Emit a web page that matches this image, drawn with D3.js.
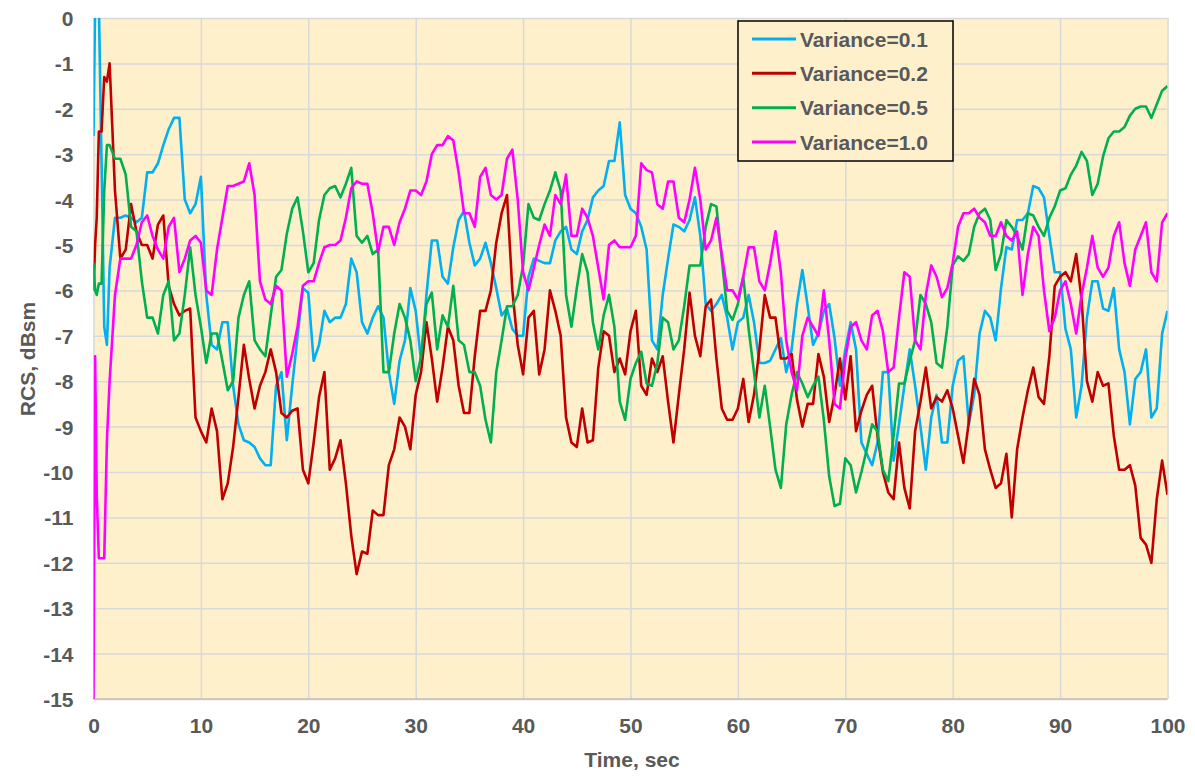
<!DOCTYPE html>
<html>
<head>
<meta charset="utf-8">
<script src="https://cdn.jsdelivr.net/npm/d3@7"></script>
<style>
  body { margin: 0; background: #fff; }
  svg text { font-family: "Liberation Sans", Arial, sans-serif; font-weight: bold; fill: #595959; }
</style>
</head>
<body>
<svg id="chart" width="1195" height="776"></svg>
<script>
// time axis: dense start, then every 0.5 s
const tHead = [0, 0.15, 0.3, 0.5, 0.75, 1, 1.25]
const times = tHead.concat(d3.range(1.5, 100.001, 0.5))

const seriesNames = ["Variance=0.1", "Variance=0.2", "Variance=0.5", "Variance=1.0"]
const seriesColors = ["#00b0f0", "#c00000", "#00b050", "#ff00ff"]

// RCS values, dBsm
const var01 = [
  -2.6, 0.3, 0.3, 0.3, -3.2, -6.8, -7.2,
  -5.5, -4.4, -4.4, -4.35, -4.4, -4.5, -4.4, -3.4, -3.4, -3.2, -2.8, -2.45, -2.2, -2.2, -4.0, -4.3, -4.1, -3.5,
  -6.1, -7.2, -7.3, -6.7, -6.7, -8.1, -8.95, -9.3, -9.35, -9.45, -9.7, -9.85, -9.85, -8.1, -7.8, -9.3, -8.1, -7.0, -5.95, -6.05,
  -7.55, -7.2, -6.45, -6.7, -6.6, -6.6, -6.3, -5.3, -5.6, -6.7, -6.95, -6.6, -6.35, -6.6, -7.8, -8.5, -7.55, -7.1, -5.95, -6.45,
  -7.55, -6.1, -4.9, -4.9, -5.7, -5.85, -5.05, -4.45, -4.25, -4.95, -5.45, -5.3, -4.95, -5.4, -5.95, -6.55, -6.4, -6.85, -7.0, -7.0,
  -5.7, -5.3, -5.35, -5.4, -5.4, -4.9, -4.7, -4.6, -5.1, -5.2, -4.7, -4.45, -3.95, -3.8, -3.7, -3.15, -3.15, -2.3, -3.9, -4.2,
  -4.3, -4.6, -5.1, -7.1, -7.3, -6.1, -5.3, -4.55, -4.6, -4.7, -4.45, -3.95, -4.8, -6.3, -6.45, -6.3, -6.1, -6.6, -7.3, -6.7,
  -6.6, -6.1, -6.7, -7.6, -7.6, -7.55, -7.3, -7.05, -7.8, -7.3, -6.3, -5.55, -6.35, -7.2, -6.95, -6.45, -6.3, -7.05, -8.1, -7.3,
  -6.7, -7.3, -9.35, -9.6, -9.85, -9.35, -7.8, -7.8, -9.75, -8.95, -8.1, -7.3, -8.1, -9.0, -9.95, -8.8, -8.3, -9.35, -9.35, -8.1,
  -7.55, -7.45, -8.95, -8.3, -6.95, -6.45, -6.6, -7.1, -5.95, -5.05, -5.1, -4.45, -4.45, -4.3, -3.7, -3.75, -3.95, -4.8, -5.6, -5.6,
  -6.85, -7.3, -8.8, -8.1, -6.6, -5.8, -5.8, -6.4, -6.45, -5.95, -7.3, -7.8, -8.95, -7.95, -7.8, -7.3, -8.8, -8.6, -6.95, -6.45
]
const var02 = [
  -6.0, -5.0, -4.4, -2.5, -2.5, -1.3, -1.4,
  -1.0, -3.8, -5.3, -5.1, -4.1, -4.7, -5.0, -5.0, -5.3, -4.55, -4.35, -5.9, -6.3, -6.55, -6.45, -6.4, -8.8, -9.1,
  -9.35, -8.6, -9.1, -10.6, -10.25, -9.45, -8.35, -7.2, -7.95, -8.6, -8.1, -7.8, -7.3, -7.8, -8.7, -8.8, -8.65, -8.6, -9.95, -10.25,
  -9.35, -8.35, -7.8, -9.95, -9.7, -9.3, -10.25, -11.4, -12.25, -11.75, -11.8, -10.85, -10.95, -10.95, -9.85, -9.5, -8.8, -9.0, -9.5, -8.3,
  -7.8, -6.7, -7.5, -8.45, -7.7, -6.8, -7.1, -8.1, -8.7, -8.7, -7.45, -6.45, -6.45, -6.0, -4.95, -4.3, -3.9, -6.0, -7.2, -7.85,
  -6.6, -6.45, -7.85, -7.3, -6.0, -6.45, -7.0, -8.8, -9.35, -9.45, -8.6, -9.35, -9.3, -7.7, -6.9, -7.0, -7.8, -7.5, -7.85, -6.9,
  -6.45, -8.1, -8.3, -7.5, -7.8, -7.45, -8.45, -9.35, -8.3, -7.3, -6.05, -7.0, -7.45, -6.35, -6.2, -7.5, -8.6, -8.85, -8.85, -8.6,
  -7.95, -8.9, -8.3, -7.3, -6.1, -6.6, -6.6, -7.5, -7.5, -7.4, -8.4, -9.0, -8.5, -8.5, -7.4, -7.9, -8.9, -8.3, -7.5, -8.4,
  -7.45, -9.1, -8.65, -8.3, -8.1, -9.2, -10.0, -10.45, -10.6, -9.35, -10.35, -10.8, -9.1, -8.45, -7.7, -8.6, -8.35, -8.45, -8.2, -8.6,
  -9.2, -9.8, -8.9, -7.95, -8.3, -9.5, -9.95, -10.35, -10.25, -9.6, -11.0, -9.5, -8.8, -8.2, -7.7, -8.35, -8.5, -7.45, -5.9, -5.7,
  -5.6, -5.8, -5.2, -6.2, -8.0, -8.45, -7.8, -8.1, -8.05, -9.2, -9.95, -9.95, -9.85, -10.3, -11.45, -11.6, -12.0, -10.6, -9.75, -10.5
]
const var05 = [
  -5.4, -6.0, -6.1, -5.85, -5.85, -3.8, -2.8,
  -2.8, -3.1, -3.1, -3.45, -4.6, -4.7, -5.8, -6.6, -6.6, -6.95, -6.1, -5.8, -7.1, -6.95, -6.1, -5.05, -6.1, -6.8,
  -7.6, -6.95, -6.95, -7.55, -8.2, -8.0, -6.6, -6.1, -5.8, -7.1, -7.3, -7.45, -6.55, -5.7, -5.55, -4.75, -4.2, -3.95, -4.7, -5.6,
  -5.4, -4.45, -3.9, -3.75, -3.7, -3.95, -3.65, -3.3, -4.8, -4.95, -4.8, -5.2, -5.1, -7.8, -7.8, -6.95, -6.3, -6.6, -7.1, -8.0,
  -7.45, -6.3, -6.05, -7.3, -6.55, -6.8, -5.9, -7.1, -7.2, -7.8, -7.8, -8.1, -8.85, -9.35, -7.8, -7.1, -6.35, -6.35, -6.1, -5.45,
  -4.1, -4.4, -4.45, -4.1, -3.8, -3.4, -3.8, -6.1, -6.8, -5.95, -5.2, -5.6, -6.7, -7.3, -6.55, -6.1, -6.8, -8.45, -8.85, -7.95,
  -7.6, -7.35, -8.05, -8.1, -7.6, -6.6, -6.7, -7.3, -7.1, -6.35, -5.45, -5.45, -5.45, -4.6, -4.1, -4.15, -5.3, -6.45, -6.65, -6.3,
  -5.7, -6.85, -7.8, -8.8, -8.1, -9.0, -9.95, -10.35, -8.95, -8.3, -7.8, -8.05, -8.35, -8.1, -7.9, -8.85, -10.1, -10.75, -10.7, -9.7,
  -9.85, -10.45, -10.0, -9.5, -8.95, -9.1, -9.95, -10.2, -9.2, -8.05, -8.05, -7.55, -7.1, -6.1, -6.3, -6.7, -7.6, -7.7, -6.8, -5.45,
  -5.25, -5.35, -5.2, -4.6, -4.3, -4.2, -4.45, -5.55, -5.2, -4.45, -4.6, -4.8, -5.1, -4.3, -4.35, -4.6, -4.8, -4.4, -4.15, -3.8,
  -3.75, -3.45, -3.25, -2.95, -3.15, -3.9, -3.65, -3.05, -2.65, -2.5, -2.5, -2.4, -2.15, -2.0, -1.95, -1.95, -2.2, -1.9, -1.6, -1.5
]
const var10 = [
  -15, -7.45, -10.5, -11.9, -11.9, -11.9, -9.3,
  -8.0, -6.1, -5.3, -5.3, -5.3, -5.0, -4.5, -4.35, -4.8, -5.1, -5.3, -4.6, -4.4, -5.6, -5.3, -4.9, -4.8, -4.95,
  -6.0, -6.1, -5.1, -4.4, -3.7, -3.7, -3.65, -3.6, -3.2, -3.9, -5.8, -6.2, -6.3, -5.9, -6.0, -7.9, -7.4, -6.8, -5.9, -5.8,
  -5.8, -5.4, -5.05, -5.0, -5.0, -4.9, -4.4, -3.75, -3.6, -3.65, -3.65, -4.3, -5.15, -4.6, -4.6, -5.0, -4.5, -4.2, -3.8, -3.8,
  -3.9, -3.6, -3.0, -2.8, -2.8, -2.6, -2.7, -3.4, -4.3, -4.3, -4.6, -3.5, -3.3, -3.9, -4.0, -3.9, -3.1, -2.9, -4.0, -5.6,
  -6.0, -5.5, -5.0, -4.55, -4.8, -3.9, -4.1, -3.45, -4.8, -4.8, -4.2, -4.4, -4.8, -5.5, -6.2, -5.0, -4.9, -5.05, -5.05, -5.05,
  -4.8, -3.2, -3.35, -3.4, -4.1, -4.2, -3.6, -3.6, -4.4, -4.5, -4.0, -3.3, -4.0, -5.1, -4.9, -4.4, -5.2, -6.0, -6.0, -6.2,
  -5.7, -5.05, -5.05, -5.8, -6.0, -5.4, -4.7, -5.6, -7.1, -7.8, -8.2, -7.0, -6.6, -6.8, -7.0, -6.0, -7.1, -8.5, -8.6, -7.5,
  -6.8, -6.7, -7.1, -7.3, -6.55, -6.45, -6.9, -7.8, -7.7, -6.6, -5.6, -5.7, -7.1, -7.3, -6.1, -5.45, -5.7, -6.15, -5.95, -5.4,
  -4.6, -4.3, -4.3, -4.2, -4.4, -4.5, -4.8, -4.8, -4.5, -4.8, -4.9, -4.7, -6.1, -5.2, -4.6, -4.8, -6.0, -6.9, -6.6, -6.0,
  -5.8, -6.3, -6.95, -6.1, -5.5, -4.8, -5.5, -5.7, -5.5, -4.8, -4.5, -5.4, -5.9, -5.1, -4.8, -4.5, -5.6, -5.8, -4.5, -4.3
]
const seriesValues = [var01, var02, var05, var10]

const xTicks = d3.range(0, 101, 10)
const yTicks = d3.range(-15, 1, 1)

// layout
const plot = { left: 93.5, right: 1167.5, top: 18, bottom: 699 }
const bg = "#fff0cc"

const svg = d3.select("#chart")

const x = d3.scaleLinear().domain([0, 100]).range([plot.left, plot.right])
const y = d3.scaleLinear().domain([-15, 0]).range([plot.bottom, plot.top])

svg.append("rect")
  .attr("x", plot.left).attr("y", plot.top)
  .attr("width", plot.right - plot.left).attr("height", plot.bottom - plot.top)
  .attr("fill", bg)

// plain hyphen minus, like the original
const fmt = d => String(d)

// y grid + labels
const yAxis = svg.append("g")
  .attr("transform", `translate(${plot.left},0)`)
  .call(d3.axisLeft(y).tickValues(yTicks).tickFormat(fmt)
    .tickSize(-(plot.right - plot.left)).tickPadding(20))
yAxis.select(".domain").remove()
yAxis.selectAll("line").attr("stroke", "#d9d9d9").attr("stroke-width", 1.5)
yAxis.selectAll("text").attr("font-size", 21).attr("dy", "0.36em")

// x grid + labels
const xAxis = svg.append("g")
  .attr("transform", `translate(0,${plot.bottom})`)
  .call(d3.axisBottom(x).tickValues(xTicks).tickFormat(fmt)
    .tickSize(-(plot.bottom - plot.top)).tickPadding(19))
xAxis.select(".domain").remove()
xAxis.selectAll("line").attr("stroke", "#d9d9d9").attr("stroke-width", 1.5)
xAxis.selectAll("text").attr("font-size", 21)

// bottom axis line
svg.append("line")
  .attr("x1", plot.left).attr("x2", plot.right)
  .attr("y1", plot.bottom).attr("y2", plot.bottom)
  .attr("stroke", "#bfbfbf").attr("stroke-width", 1.5)

svg.append("clipPath").attr("id", "clip")
  .append("rect")
  .attr("x", plot.left).attr("y", plot.top)
  .attr("width", plot.right - plot.left).attr("height", plot.bottom - plot.top)

const line = d3.line()
  .x((d, i) => x(times[i]))
  .y(d => y(d))

svg.append("g").attr("clip-path", "url(#clip)")
  .selectAll("path")
  .data(seriesValues)
  .join("path")
  .attr("d", line)
  .attr("fill", "none")
  .attr("stroke", (d, i) => seriesColors[i])
  .attr("stroke-width", 2.6)
  .attr("stroke-linejoin", "round")

// axis titles
svg.append("text")
  .attr("x", 632).attr("y", 767)
  .attr("text-anchor", "middle").attr("font-size", 21)
  .text("Time, sec")

svg.append("text")
  .attr("transform", "translate(35,359) rotate(-90)")
  .attr("text-anchor", "middle").attr("font-size", 21)
  .text("RCS, dBsm")

// legend
const legend = svg.append("g")
legend.append("rect")
  .attr("x", 738).attr("y", 21).attr("width", 215).attr("height", 140)
  .attr("fill", bg).attr("stroke", "#000").attr("stroke-width", 1.5)

const rowY = d3.scalePoint().domain(seriesNames).range([39, 142])
const rows = legend.selectAll(".row")
  .data(seriesNames)
  .join("g")
  .attr("transform", d => `translate(0,${rowY(d)})`)
rows.append("line")
  .attr("x1", 752).attr("x2", 796)
  .attr("stroke", (d, i) => seriesColors[i]).attr("stroke-width", 3)
rows.append("text")
  .attr("x", 800).attr("dy", "0.36em").attr("font-size", 21)
  .text(d => d)
</script>
</body>
</html>
